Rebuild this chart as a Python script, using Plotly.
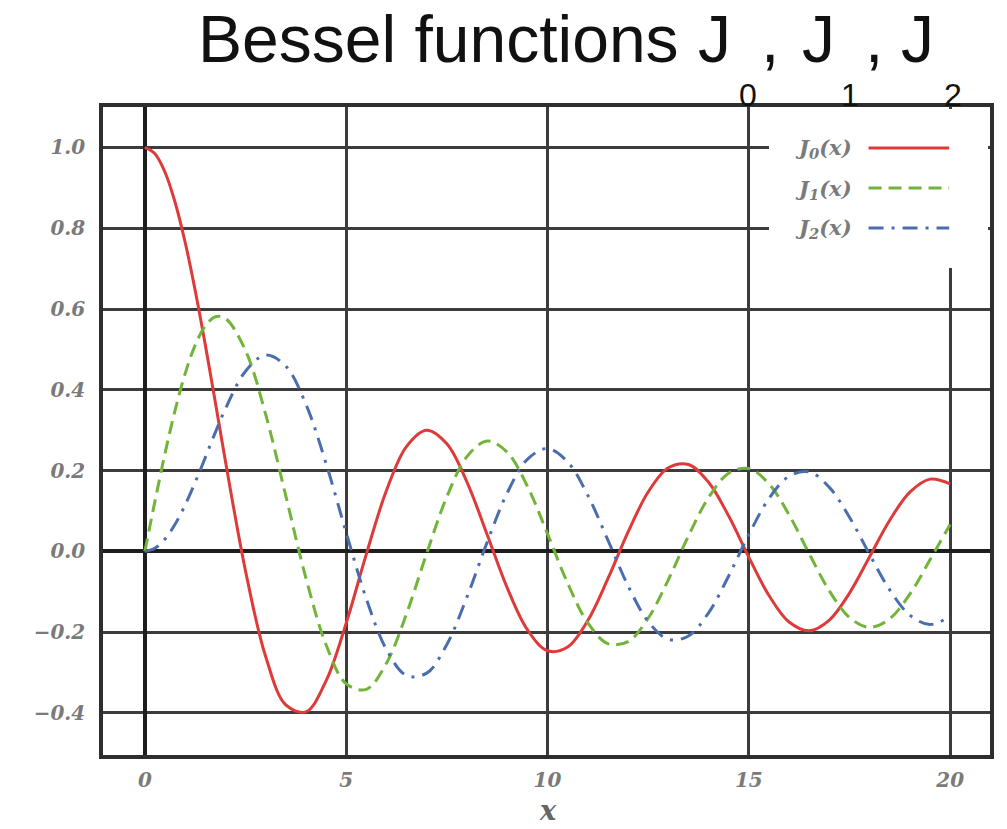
import plotly.graph_objects as go

# ---- data ----
x_vals = [0.0, 0.25, 0.5, 0.75, 1.0, 1.25, 1.5, 1.75, 2.0, 2.5, 3.0, 3.5, 4.0, 4.5, 5.0,
          5.5, 6.0, 6.5, 7.0, 7.5, 8.0, 8.5, 9.0, 9.5, 10.0, 10.5, 11.0, 11.5, 12.0,
          12.5, 13.0, 13.5, 14.0, 14.5, 15.0, 15.5, 16.0, 16.5, 17.0, 17.5, 18.0,
          18.5, 19.0, 19.5, 20.0]

j0_vals = [1.0, 0.9844, 0.9385, 0.8642, 0.7652, 0.6459, 0.5118, 0.3690, 0.2239,
           -0.0484, -0.2601, -0.3801, -0.3971, -0.3205, -0.1776, -0.0068, 0.1506,
           0.2601, 0.3001, 0.2663, 0.1717, 0.0419, -0.0903, -0.1939, -0.2459, -0.2366,
           -0.1712, -0.0677, 0.0477, 0.1469, 0.2069, 0.2150, 0.1711, 0.0875, -0.0142,
           -0.1092, -0.1749, -0.1965, -0.1699, -0.1033, -0.0134, 0.0772, 0.1466, 0.1789,
           0.1670]

j1_vals = [0.0, 0.1240, 0.2423, 0.3492, 0.4401, 0.5107, 0.5579, 0.5807, 0.5767,
           0.4971, 0.3391, 0.1374, -0.0660, -0.2311, -0.3276, -0.3414, -0.2767, -0.1538,
           -0.0047, 0.1352, 0.2346, 0.2731, 0.2453, 0.1613, 0.0435, -0.0789, -0.1768,
           -0.2284, -0.2234, -0.1655, -0.0703, 0.0380, 0.1334, 0.1934, 0.2051, 0.1672,
           0.0904, -0.0057, -0.0977, -0.1636, -0.1880, -0.1666, -0.1057, -0.0209, 0.0668]

j2_vals = [0.0, 0.0078, 0.0306, 0.0671, 0.1149, 0.1712, 0.2321, 0.2946, 0.3528,
           0.4461, 0.4861, 0.4586, 0.3641, 0.2178, 0.0466, -0.1173, -0.2429, -0.3074,
           -0.3014, -0.2303, -0.1130, 0.0223, 0.1448, 0.2279, 0.2546, 0.2216, 0.1390,
           0.0280, -0.0849, -0.1734, -0.2177, -0.2094, -0.1520, -0.0608, 0.0416, 0.1308,
           0.1862, 0.1968, 0.1584, 0.0846, -0.0075, -0.0952, -0.1578, -0.1810, -0.1603]

series_names = ["J<sub>0</sub>(x)", "J<sub>1</sub>(x)", "J<sub>2</sub>(x)"]
x_ticks = [0, 5, 10, 15, 20]
y_ticks = [-0.4, -0.2, 0.0, 0.2, 0.4, 0.6, 0.8, 1.0]
y_tick_text = ["\u22120.4", "\u22120.2", "0.0", "0.2", "0.4", "0.6", "0.8", "1.0"]

# ---- styles ----
colors = ["#de3a3a", "#72b43a", "#4a6eab"]
dashes = ["solid", "13px,7px", "15px,8px,3px,8px"]

# page geometry: the figure sits at an 8px body margin inside the 1007x829 window
OX, OY = 8, 8
FW, FH = 991, 813
# plot-area edges in window pixels
L, R, T, B = 103, 994, 107, 755


def px(xp):
    return (xp - L) / (R - L)


def py(yp):
    return (B - yp) / (B - T)


fig = go.Figure()
for ys, c, d, n in zip([j0_vals, j1_vals, j2_vals], colors, dashes, series_names):
    fig.add_trace(go.Scatter(x=x_vals, y=ys, mode="lines", name=n,
                             line=dict(color=c, width=3, dash=d, shape="spline", smoothing=1.0),
                             showlegend=False, hoverinfo="skip"))

tick_font = dict(family="DejaVu Serif", size=20, color="#7a7a7a", style="italic", weight="bold")

fig.update_layout(
    width=FW, height=FH,
    margin=dict(l=L - OX, r=(OX + FW) - R, t=T - OY, b=(OY + FH) - B, pad=0),
    paper_bgcolor="white", plot_bgcolor="white",
    xaxis=dict(range=[-1.04, 20.99], tickvals=x_ticks, ticktext=[str(v) for v in x_ticks],
               showgrid=True, gridcolor="#3c3c3c", gridwidth=2.5,
               zeroline=True, zerolinecolor="#1e1e1e", zerolinewidth=3.5,
               showline=True, linecolor="#2e2e2e", linewidth=3.5, mirror=True,
               ticks="", ticklabelstandoff=4, tickfont=tick_font),
    yaxis=dict(range=[-0.504, 1.10], tickvals=y_ticks, ticktext=y_tick_text,
               showgrid=True, gridcolor="#3c3c3c", gridwidth=2.5,
               zeroline=True, zerolinecolor="#1e1e1e", zerolinewidth=3.5,
               showline=True, linecolor="#2e2e2e", linewidth=3.5, mirror=True,
               ticks="", ticklabelstandoff=10, tickfont=tick_font),
)

# ---- manual legend (text left, line sample right) ----
shapes = [dict(type="rect", xref="paper", yref="paper", x0=px(772), x1=px(992),
               y0=py(268), y1=py(109), fillcolor="white", line=dict(width=0), layer="above")]
annotations = []
row_y = [148, 188, 228]
for n, c, d, yy in zip(series_names, colors, dashes, row_y):
    shapes.append(dict(type="line", xref="paper", yref="paper", x0=px(872), x1=px(953),
                       y0=py(yy), y1=py(yy), line=dict(color=c, width=3, dash=d), layer="above"))
    annotations.append(dict(text=n, xref="paper", yref="paper", x=px(857), y=py(yy + 1),
                            xanchor="right", yanchor="middle", showarrow=False,
                            font=dict(family="DejaVu Serif", size=21, color="#7a7a7a",
                                      style="italic", weight="bold")))

# axis title
annotations.append(dict(text="x", xref="paper", yref="paper", x=px(550), y=py(810),
                        xanchor="center", yanchor="middle", showarrow=False,
                        font=dict(family="DejaVu Serif", size=27, color="#666666",
                                  style="italic", weight="bold")))

# ---- title pieces ----
TS, SS = 66, 32
title_font = dict(family="Liberation Sans, Arial, sans-serif", size=TS, color="#111111")
sub_font = dict(family="Liberation Sans, Arial, sans-serif", size=SS, color="#111111")
main_base, sub_base = 62, 106
main_cy = main_base - 0.3465 * TS
sub_cy = sub_base - 0.3465 * SS
title_pieces = [("Bessel functions", 440), ("J", 717), (",", 773), ("J", 822), (",", 877), ("J", 921)]
for t, cx in title_pieces:
    annotations.append(dict(text=t, xref="paper", yref="paper", x=px(cx), y=py(main_cy),
                            xanchor="center", yanchor="middle", showarrow=False, font=title_font))
for t, cx in [("0", 751), ("1", 853), ("2", 957)]:
    annotations.append(dict(text=t, xref="paper", yref="paper", x=px(cx), y=py(sub_cy),
                            xanchor="center", yanchor="middle", showarrow=False, font=sub_font))

fig.update_layout(shapes=shapes, annotations=annotations)
fig.write_html("out.html")
